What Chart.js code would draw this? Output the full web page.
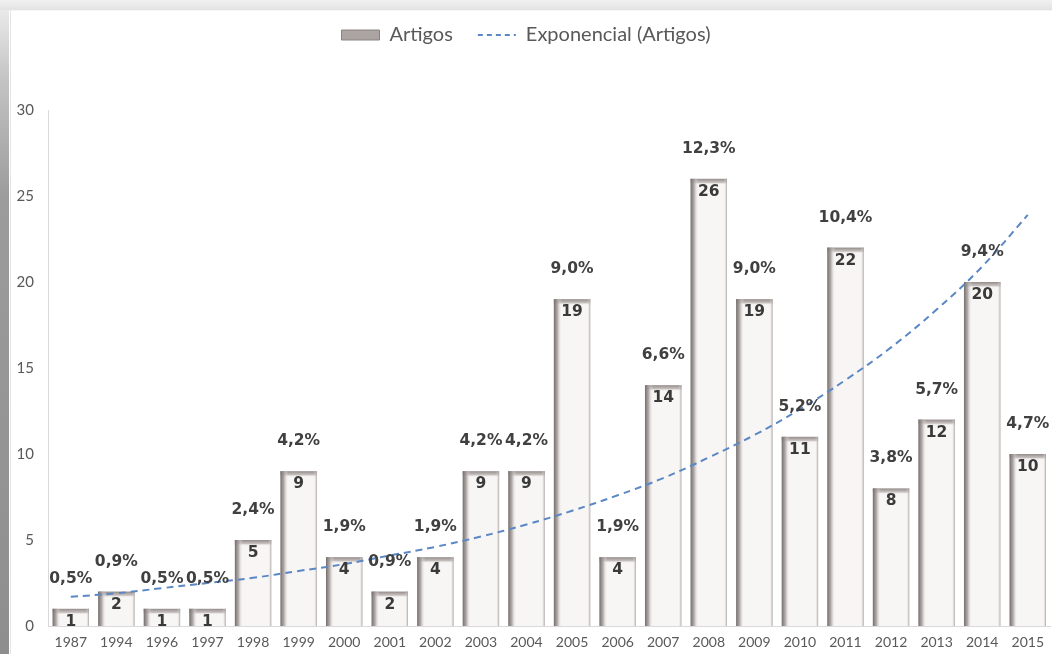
<!DOCTYPE html>
<html>
<head>
<meta charset="utf-8">
<script src="https://cdn.jsdelivr.net/npm/chart.js@4.4.1/dist/chart.umd.min.js"></script>
<style>
html,body{margin:0;padding:0;background:#fff;}
#wrap{width:1052px;height:654px;position:relative;}
</style>
</head>
<body>
<div id="wrap"><canvas id="c"></canvas></div>
<script>
const years = ['1987','1994','1996','1997','1998','1999','2000','2001','2002','2003','2004','2005','2006','2007','2008','2009','2010','2011','2012','2013','2014','2015'];
const artigos = [1,2,1,1,5,9,4,2,4,9,9,19,4,14,26,19,11,22,8,12,20,10];
const percentLabels = ['0,5%','0,9%','0,5%','0,5%','2,4%','4,2%','1,9%','0,9%','1,9%','4,2%','4,2%','9,0%','1,9%','6,6%','12,3%','9,0%','5,2%','10,4%','3,8%','5,7%','9,4%','4,7%'];
const trendValues = [1.7,1.9,2.2,2.5,2.8,3.2,3.6,4.1,4.6,5.2,5.9,6.7,7.6,8.6,9.8,11.1,12.6,14.3,16.2,18.4,20.9,23.9];
const yTicks = [0,5,10,15,20,25,30];

const CHART_TOP = 110;
const CHART_LEFT = 48;
const CHART_BOTTOM_SPACE = 28;

const backgroundPlugin = {
  id: 'bgFrame',
  beforeDraw(chart) {
    const ctx = chart.ctx, w = chart.width, h = chart.height;
    ctx.save();
    ctx.fillStyle = '#ffffff';
    ctx.fillRect(0, 0, w, h);
    const tg = ctx.createLinearGradient(0, 0, 0, 10);
    tg.addColorStop(0, '#f1f1f1');
    tg.addColorStop(1, '#e2e2e2');
    ctx.fillStyle = tg;
    ctx.fillRect(0, 0, w, 10);
    ctx.fillStyle = '#f6f6f6';
    ctx.fillRect(0, 10, w, 1);
    const lg = ctx.createLinearGradient(0, 0, 0, h);
    lg.addColorStop(0, '#efefef');
    lg.addColorStop(0.12, '#c4c4c4');
    lg.addColorStop(0.3, '#9c9c9c');
    lg.addColorStop(1, '#8e8e8e');
    ctx.fillStyle = lg;
    ctx.fillRect(0, 10, 9, h - 10);
    ctx.fillStyle = '#e4e4e4';
    ctx.fillRect(10, 10, 1, h - 10);
    ctx.restore();
  }
};

const barShadePlugin = {
  id: 'barShade',
  afterDatasetDraw(chart, args) {
    if (args.index !== 0) return;
    const ctx = chart.ctx;
    const meta = chart.getDatasetMeta(0);
    ctx.save();
    meta.data.forEach((bar) => {
      const l = bar.x - bar.width / 2, r = bar.x + bar.width / 2;
      const t = bar.y, b = bar.base;
      const tg = ctx.createLinearGradient(0, t, 0, t + 6);
      tg.addColorStop(0, 'rgba(140,132,130,0.95)');
      tg.addColorStop(0.6, 'rgba(175,168,166,0.7)');
      tg.addColorStop(1, 'rgba(248,246,245,0)');
      ctx.fillStyle = tg;
      ctx.fillRect(l, t, r - l, Math.min(6, b - t));
      const lg = ctx.createLinearGradient(l, 0, l + 8, 0);
      lg.addColorStop(0, 'rgba(115,108,106,1)');
      lg.addColorStop(0.45, 'rgba(165,158,156,0.85)');
      lg.addColorStop(1, 'rgba(248,246,245,0)');
      ctx.fillStyle = lg;
      ctx.fillRect(l, t, 8, b - t);
      const rg = ctx.createLinearGradient(r - 3, 0, r, 0);
      rg.addColorStop(0, 'rgba(248,246,245,0)');
      rg.addColorStop(1, 'rgba(160,153,151,0.9)');
      ctx.fillStyle = rg;
      ctx.fillRect(r - 3, t, 3, b - t);
    });
    ctx.restore();
  }
};

const labelPlugin = {
  id: 'barLabels',
  afterDraw(chart) {
    const ctx = chart.ctx;
    const meta = chart.getDatasetMeta(0);
    ctx.save();
    ctx.textAlign = 'center';
    ctx.textBaseline = 'middle';
    meta.data.forEach((bar, i) => {
      ctx.font = 'bold 15.5px "DejaVu Sans"';
      ctx.fillStyle = '#3a3a3a';
      ctx.fillText(String(artigos[i]), bar.x, bar.y + 13);
      ctx.fillStyle = '#404040';
      ctx.fillText(percentLabels[i], bar.x, bar.y - 30);
    });
    ctx.restore();
  }
};

const legendFitPlugin = {
  id: 'legendFit',
  beforeInit(chart) {
    const orig = chart.legend.fit;
    chart.legend.fit = function () {
      orig.bind(chart.legend)();
      this.height = CHART_TOP;
    };
  }
};

const ctx = document.getElementById('c').getContext('2d');
new Chart(ctx, {
  data: {
    labels: years,
    datasets: [
      {
        type: 'bar',
        label: 'Artigos',
        data: artigos,
        order: 1,
        backgroundColor: '#f8f6f5',
        borderWidth: 0,
        barPercentage: 0.8,
        categoryPercentage: 1.0
      },
      {
        type: 'line',
        label: 'Exponencial (Artigos)',
        data: trendValues,
        order: 0,
        borderColor: '#5b87c5',
        borderWidth: 2,
        borderDash: [7, 5],
        pointRadius: 0,
        fill: false,
        tension: 0.4
      }
    ]
  },
  options: {
    responsive: true,
    maintainAspectRatio: false,
    animation: false,
    layout: {padding: {top: 0, left: 0, right: 0, bottom: 0}},
    plugins: {
      tooltip: {enabled: false},
      legend: {
        position: 'top',
        align: 'center',
        labels: {
          usePointStyle: true,
          pointStyleWidth: 38,
          boxHeight: 10,
          padding: 25,
          color: '#595959',
          font: {family: 'Lato', size: 20},
          generateLabels() {
            return [
              {text: 'Artigos', fillStyle: '#aca4a2', strokeStyle: '#8a8280', lineWidth: 1, pointStyle: 'rect', datasetIndex: 0, hidden: false, fontColor: '#595959'},
              {text: 'Exponencial (Artigos)', fillStyle: 'rgba(0,0,0,0)', strokeStyle: '#5b87c5', lineWidth: 2, lineDash: [5, 4], pointStyle: 'line', datasetIndex: 1, hidden: false, fontColor: '#595959'}
            ];
          }
        }
      }
    },
    scales: {
      x: {
        grid: {display: false, drawTicks: false},
        border: {display: true, color: '#d9d9d9', width: 1},
        ticks: {color: '#595959', font: {family: 'Lato', size: 14}, padding: 8, maxRotation: 0, autoSkip: false},
        afterFit(s) { s.height = CHART_BOTTOM_SPACE; }
      },
      y: {
        min: yTicks[0],
        max: yTicks[yTicks.length - 1],
        grid: {display: false, drawTicks: false},
        border: {display: true, color: '#d9d9d9', width: 1},
        ticks: {stepSize: yTicks[1] - yTicks[0], color: '#595959', font: {family: 'Lato', size: 15}, padding: 14},
        afterFit(s) { s.width = CHART_LEFT; }
      }
    }
  },
  plugins: [backgroundPlugin, legendFitPlugin, barShadePlugin, labelPlugin]
});
</script>
</body>
</html>
